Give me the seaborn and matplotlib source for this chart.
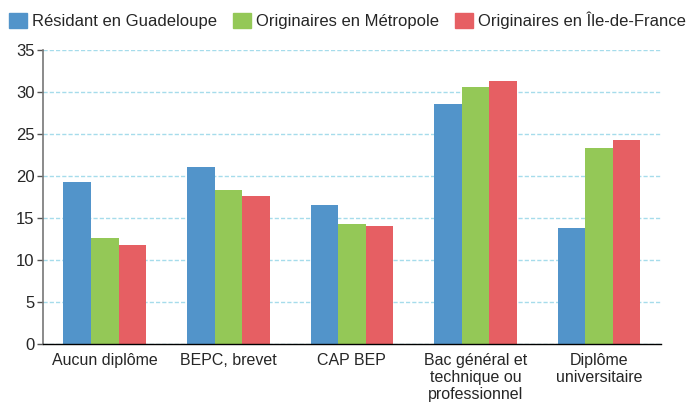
import pandas as pd
import seaborn as sns
import matplotlib.pyplot as plt
from matplotlib.ticker import FixedLocator

# Data
categories = ["Aucun diplôme", "BEPC, brevet", "CAP BEP",
              "Bac général et\ntechnique ou\nprofessionnel", "Diplôme\nuniversitaire"]
guadeloupe = [19.3, 21.1, 16.6, 28.6, 13.9]
metropole = [12.7, 18.4, 14.3, 30.6, 23.4]
idf = [11.8, 17.7, 14.1, 31.3, 24.3]
series = ["Résidant en Guadeloupe", "Originaires en Métropole", "Originaires en Île-de-France"]
colors = ["#5294CA", "#94C857", "#E65F63"]

rows = []
for name, vals in zip(series, [guadeloupe, metropole, idf]):
    for cat, v in zip(categories, vals):
        rows.append({"categorie": cat, "serie": name, "valeur": v})
df = pd.DataFrame(rows)

sns.set_style("white")
plt.rcParams['font.family'] = ['Liberation Sans', 'DejaVu Sans']

fig = plt.figure(figsize=(6.88, 4.08), dpi=100)
ax = fig.add_axes([0.0625, 0.156, 0.898, 0.721])

sns.barplot(data=df, x="categorie", y="valeur", hue="serie", palette=colors,
            width=0.67, saturation=1, linewidth=0, ax=ax, legend=False)

ax.set_ylim(0, 35)
ax.set_xlim(-0.5, len(categories) - 0.5)
ax.set_yticks(range(0, 36, 5))
ax.set_xlabel("")
ax.set_ylabel("")

# dashed light-blue grid
ax.yaxis.grid(True, color="#A6DCEB", linestyle=(0, (3, 1.5)), linewidth=1)
ax.set_axisbelow(True)

# tick marks between categories
ax.xaxis.set_minor_locator(FixedLocator([i - 0.5 for i in range(len(categories) + 1)]))
ax.tick_params(axis="x", which="major", length=0, labelsize=11.5, pad=6)
ax.tick_params(axis="x", which="minor", length=6, width=1, color="black", direction="out")
ax.tick_params(axis="y", which="major", length=4, width=1, color="#555555", labelsize=12, pad=2,
               left=True)

for s in ["top", "right"]:
    ax.spines[s].set_visible(False)
ax.spines["left"].set_color("#777777")
ax.spines["left"].set_linewidth(1.2)
ax.spines["bottom"].set_color("black")
ax.spines["bottom"].set_linewidth(1)

handles = [plt.Rectangle((0, 0), 1, 1, color=c) for c in colors]
fig.legend(handles, series, loc="upper center", bbox_to_anchor=(0.505, 1.0), ncol=3,
           frameon=False, fontsize=12, handlelength=1.05, handleheight=1.05,
           handletextpad=0.3, columnspacing=1.0, borderaxespad=0.3)

fig.savefig("out.png", dpi=100)
